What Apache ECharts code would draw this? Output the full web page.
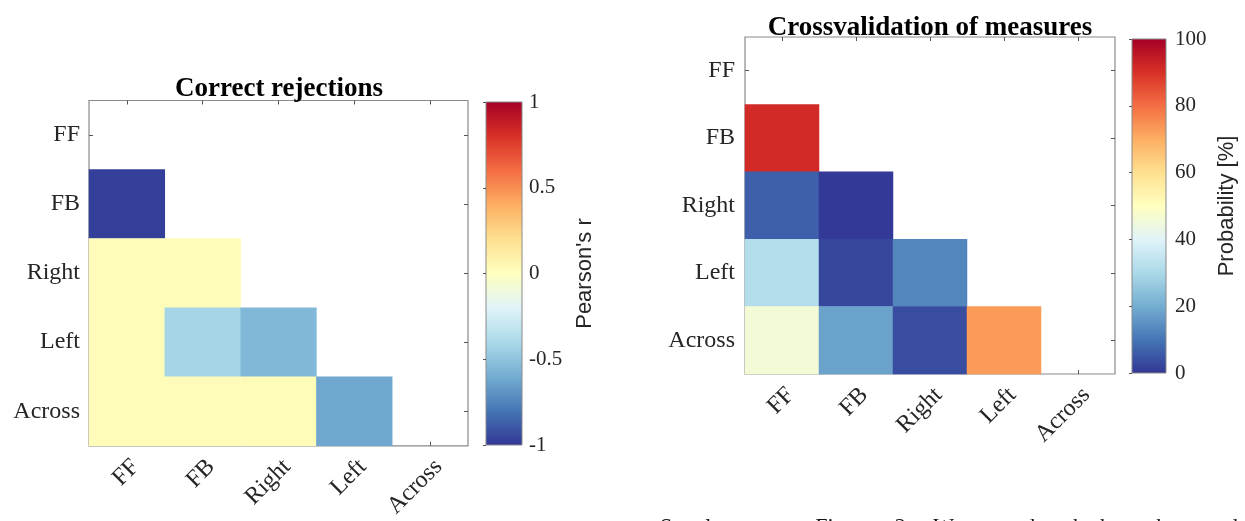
<!DOCTYPE html>
<html>
<head>
<meta charset="utf-8">
<script src="https://cdn.jsdelivr.net/npm/echarts@6/dist/echarts.min.js"></script>
<style>
html,body{margin:0;padding:0;background:#fff;}
#c{width:1245px;height:521px;}
</style>
</head>
<body>
<div id="c"></div>
<script>
// ---- data ----
const categories = ['FF', 'FB', 'Right', 'Left', 'Across'];
// rows = y category (top to bottom), columns = x category
const rejectionsR = [
  [null, null, null, null, null],
  [-0.97, null, null, null, null],
  [0.02, 0.02, null, null, null],
  [0.02, -0.42, -0.55, null, null],
  [0.02, 0.02, 0.02, -0.62, null]
];
const crossvalProb = [
  [null, null, null, null, null],
  [91, null, null, null, null],
  [6.5, 0.5, null, null, null],
  [31.5, 2.5, 13, null, null],
  [46, 18, 3.5, 73, null]
];
const pearsonTicks = { min: -1, max: 1, interval: 0.5 };
const probTicks = { min: 0, max: 100, interval: 20 };
const titles = ['Correct rejections', 'Crossvalidation of measures'];
const cbarNames = ["Pearson's r", 'Probability [%]'];
const caption = 'Supplementary    Figure    2.    We    tested    whether    the    model';

// ---- helpers ----
const rdylbu = ['#313695','#4575b4','#74add1','#abd9e9','#e0f3f8','#ffffbf','#fee090','#fdae61','#f46d43','#d73027','#a50026'];
function toCells(m) {
  const out = [];
  m.forEach((row, r) => row.forEach((v, c) => { if (v !== null) out.push([c, r, v]); }));
  return out;
}
const gradient = {
  type: 'linear', x: 0, y: 0, x2: 0, y2: 1,
  colorStops: rdylbu.slice().reverse().map((c, i) => ({ offset: i / (rdylbu.length - 1), color: c }))
};
const serif = 'Liberation Serif';
const sans = 'Liberation Sans';
const txt = '#262626';
const boxCol = '#8a8a8a';

function catX(grid, pos, labels) {
  return {
    type: 'category', gridIndex: grid, data: categories, position: pos,
    axisLine: { show: false },
    axisTick: { show: true, inside: true, alignWithLabel: true, length: 4, lineStyle: { color: '#555' } },
    axisLabel: labels ? { show: true, rotate: 45, margin: 9, align: 'right', verticalAlign: 'top',
      fontFamily: serif, fontSize: 24, color: txt } : { show: false },
    splitLine: { show: false }
  };
}
function catY(grid, pos, labels, margin) {
  return {
    type: 'category', gridIndex: grid, data: categories, position: pos, inverse: true,
    axisLine: { show: false },
    axisTick: { show: true, inside: true, alignWithLabel: true, length: 4, lineStyle: { color: '#555' } },
    axisLabel: labels ? { show: true, margin: margin, fontFamily: serif, fontSize: 24, color: txt } : { show: false },
    splitLine: { show: false }
  };
}
function cbarY(grid, t, name, margin, nameGap) {
  return {
    type: 'value', gridIndex: grid, position: 'right', min: t.min, max: t.max, interval: t.interval,
    axisLine: { show: false },
    axisTick: { show: true, inside: true, length: 3, lineStyle: { color: '#555' } },
    axisLabel: { show: true, margin: margin, fontFamily: serif, fontSize: 21, color: txt },
    splitLine: { show: false },
    name: name, nameLocation: 'middle', nameRotate: 90, nameGap: nameGap,
    nameTextStyle: { fontFamily: sans, fontSize: 22, color: txt }
  };
}

const chart = echarts.init(document.getElementById('c'), null, { renderer: 'canvas' });
chart.setOption({
  backgroundColor: '#fff',
  animation: false,
  title: [
    { text: titles[0], left: 274, top: 71, textAlign: 'center',
      textStyle: { fontFamily: serif, fontWeight: 'bold', fontSize: 27, color: '#000', lineHeight: 27 } },
    { text: titles[1], left: 925, top: 10, textAlign: 'center',
      textStyle: { fontFamily: serif, fontWeight: 'bold', fontSize: 27, color: '#000', lineHeight: 27 } }
  ],
  grid: [
    { left: 89, top: 100.5, width: 379, height: 347, show: true, borderColor: boxCol, borderWidth: 1.2, backgroundColor: '#fff' },
    { left: 486, top: 102, width: 36, height: 343, show: true, borderColor: boxCol, borderWidth: 1, backgroundColor: gradient },
    { left: 745, top: 37, width: 370, height: 337, show: true, borderColor: boxCol, borderWidth: 1.2, backgroundColor: '#fff' },
    { left: 1132, top: 39, width: 34, height: 334, show: true, borderColor: boxCol, borderWidth: 1, backgroundColor: gradient }
  ],
  xAxis: [
    catX(0, 'bottom', true),
    catX(0, 'top', false),
    { type: 'value', gridIndex: 1, show: false },
    catX(2, 'bottom', true),
    catX(2, 'top', false),
    { type: 'value', gridIndex: 3, show: false }
  ],
  yAxis: [
    catY(0, 'left', true, 9),
    catY(0, 'right', false, 0),
    cbarY(1, pearsonTicks, cbarNames[0], 7, 52),
    catY(2, 'left', true, 10),
    catY(2, 'right', false, 0),
    cbarY(3, probTicks, cbarNames[1], 9, 50)
  ],
  visualMap: [
    { type: 'continuous', show: false, seriesIndex: 0, min: pearsonTicks.min, max: pearsonTicks.max, inRange: { color: rdylbu } },
    { type: 'continuous', show: false, seriesIndex: 1, min: probTicks.min, max: probTicks.max, inRange: { color: rdylbu } }
  ],
  series: [
    { type: 'heatmap', xAxisIndex: 0, yAxisIndex: 0, data: toCells(rejectionsR), itemStyle: { borderWidth: 0 }, emphasis: { disabled: true } },
    { type: 'heatmap', xAxisIndex: 3, yAxisIndex: 3, data: toCells(crossvalProb), itemStyle: { borderWidth: 0 }, emphasis: { disabled: true } }
  ],
  graphic: [
    { type: 'text', left: 660, top: 516, style: { text: caption, fontFamily: serif, fontSize: 22, fill: '#111' } }
  ]
});
</script>
</body>
</html>
